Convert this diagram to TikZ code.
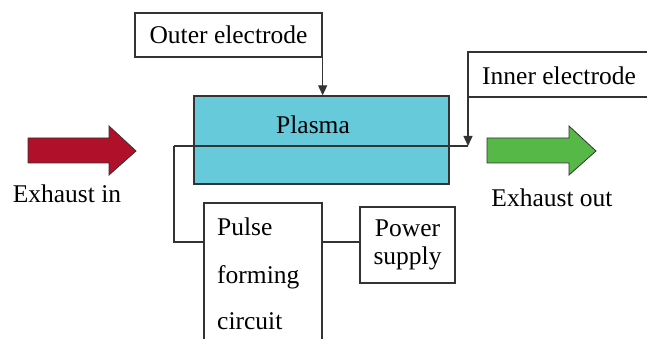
\documentclass[tikz,border=0pt]{standalone}
\usepackage{fontspec}
\setmainfont{Liberation Serif}
\usetikzlibrary{arrows.meta}
\definecolor{plasmafill}{HTML}{66CADB}
\definecolor{inred}{HTML}{B0102A}
\definecolor{outgreen}{HTML}{55B847}
\definecolor{linegray}{HTML}{333333}
\begin{document}
\begin{tikzpicture}[x=1pt,y=-1pt,
  every node/.style={font=\fontsize{25.5}{30}\selectfont, inner sep=0pt},
  wire/.style={draw=linegray, line width=1.3pt},
  tip/.style={-{Triangle[length=10pt,width=9pt]}},
  box/.style={draw=linegray, line width=1.3pt, fill=white},
  bigarrow/.style={draw=linegray, line width=0.8pt}]
\useasboundingbox (0,0) rectangle (647,339);
\clip (0,0) rectangle (647,339);

% Plasma chamber
\node[box, fill=plasmafill, minimum width=255pt, minimum height=88pt] (plasma) at (321.5,140) {};
\node (plasmatxt) at (313,125) {Plasma};

% Outer electrode
\node[box, minimum width=187pt, minimum height=44pt] (outer) at (228.5,35) {Outer electrode};
\draw[wire, tip] (outer.south east) -- (outer.south east |- plasma.north);

% Inner electrode (box running off the right edge)
\coordinate (innerTL) at (468,52);
\coordinate (innerBL) at (468,97);
\coordinate (innerTR) at (660,52);
\coordinate (innerBR) at (660,97);
\node[anchor=west] (inner) at (482,76) {Inner electrode};
\draw[wire] (innerTR) -- (innerTL) -- (innerBL) -- (innerBR);
\coordinate (rodR) at (468,146);
\coordinate (rodL) at (174,146);
\draw[wire, tip] (innerBL) -- (rodR);

% Electrode rod through the plasma
\draw[wire] (rodR) -- (rodL);

% Pulse forming circuit (box running off the bottom edge)
\coordinate (pulseTL) at (204,203);
\coordinate (pulseTR) at (322,203);
\draw[wire] (204,350) -- (pulseTL) -- (pulseTR) -- (322,350);
\node[anchor=base west] (pulse1) at (217,235) {Pulse};
\node[anchor=base west] (pulse2) at (217,283) {forming};
\node[anchor=base west] (pulse3) at (217,329) {circuit};
\coordinate (pulseL) at (204,242);
\coordinate (pulseR) at (322,242);
\draw[wire] (rodL) -- (174,242) -- (pulseL);

% Power supply
\node[box, minimum width=95pt, minimum height=76pt, align=center] (power) at (407.5,245) {Power\\[-2pt]supply};
\draw[wire] (pulseR) -- (power.west |- pulseR);

% Exhaust in arrow
\draw[bigarrow, fill=inred] (28,138) -- (109,138) -- (109,126) -- (136,151) -- (109,175) -- (109,163) -- (28,163) -- cycle;
\node (exin) at (67,194) {Exhaust in};

% Exhaust out arrow
\draw[bigarrow, fill=outgreen] (487,138) -- (569,138) -- (569,126) -- (596,151) -- (569,175) -- (569,163) -- (487,163) -- cycle;
\node (exout) at (552,198) {Exhaust out};
\end{tikzpicture}
\end{document}
